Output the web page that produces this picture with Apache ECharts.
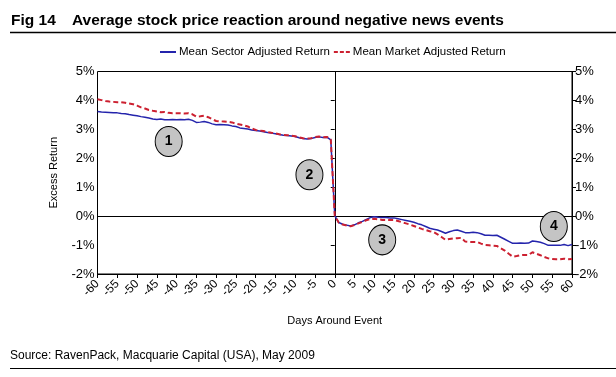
<!DOCTYPE html>
<html>
<head>
<meta charset="utf-8">
<script src="https://cdn.jsdelivr.net/npm/echarts@6/dist/echarts.min.js"></script>
<style>html,body{margin:0;padding:0;background:#fff;}#c{width:616px;height:377px;}</style>
</head>
<body>
<div id="c"></div>
<script>
// Days around event: -60 .. 60
var days = [];
for (var d = -60; d <= 60; d++) days.push(d);

// Mean Sector Adjusted Return (%), days -60..60
var sectorReturn = [
  3.62, 3.60, 3.59, 3.58, 3.57, 3.57, 3.55, 3.54, 3.51, 3.49,
  3.47, 3.44, 3.42, 3.39, 3.36, 3.34, 3.36, 3.33, 3.33, 3.34,
  3.33, 3.34, 3.33, 3.35, 3.31, 3.24, 3.25, 3.27, 3.24, 3.19,
  3.16, 3.17, 3.16, 3.15, 3.12, 3.10, 3.05, 3.03, 3.01, 2.98,
  2.96, 2.94, 2.92, 2.89, 2.87, 2.85, 2.82, 2.80, 2.79, 2.77,
  2.75, 2.71, 2.68, 2.67, 2.68, 2.72, 2.74, 2.72, 2.73, 2.64,
  0.02,
  -0.22, -0.28, -0.31, -0.34, -0.30, -0.23, -0.18, -0.11, -0.05, -0.02,
  -0.04, -0.05, -0.05, -0.06, -0.06, -0.09, -0.12, -0.15, -0.18, -0.21,
  -0.26, -0.30, -0.36, -0.42, -0.45, -0.48, -0.53, -0.59, -0.54, -0.50,
  -0.48, -0.52, -0.57, -0.57, -0.56, -0.57, -0.61, -0.66, -0.66, -0.67,
  -0.66, -0.73, -0.80, -0.87, -0.94, -0.94, -0.93, -0.94, -0.93, -0.86,
  -0.88, -0.90, -0.95, -1.01, -1.01, -1.01, -1.01, -0.98, -1.02, -0.98
];

// Mean Market Adjusted Return (%), days -60..60
var marketReturn = [
  4.04, 4.01, 3.98, 3.96, 3.95, 3.94, 3.94, 3.92, 3.89, 3.87,
  3.82, 3.76, 3.72, 3.67, 3.64, 3.62, 3.59, 3.60, 3.57, 3.56,
  3.56, 3.56, 3.55, 3.56, 3.52, 3.44, 3.45, 3.47, 3.42, 3.35,
  3.29, 3.28, 3.27, 3.26, 3.24, 3.20, 3.17, 3.14, 3.10, 3.03,
  2.98, 2.96, 2.94, 2.91, 2.88, 2.86, 2.83, 2.81, 2.80, 2.78,
  2.76, 2.72, 2.69, 2.68, 2.69, 2.73, 2.75, 2.73, 2.74, 2.65,
  0.02,
  -0.22, -0.29, -0.32, -0.35, -0.31, -0.25, -0.20, -0.14, -0.10, -0.09,
  -0.11, -0.13, -0.13, -0.13, -0.13, -0.17, -0.21, -0.25, -0.29, -0.34,
  -0.39, -0.44, -0.48, -0.52, -0.55, -0.63, -0.72, -0.82, -0.79, -0.77,
  -0.76, -0.75, -0.88, -0.89, -0.89, -0.89, -0.95, -1.00, -1.01, -1.02,
  -1.03, -1.11, -1.19, -1.30, -1.40, -1.38, -1.35, -1.34, -1.34, -1.25,
  -1.30, -1.35, -1.41, -1.46, -1.48, -1.49, -1.49, -1.47, -1.49, -1.48
];

// Numbered annotation callouts [day, return %, label]
var callouts = [
  [-42, 2.58, '1'],
  [-6.4, 1.43, '2'],
  [12, -0.82, '3'],
  [55.4, -0.36, '4']
];

var seriesNames = ['Mean Sector Adjusted Return', 'Mean Market Adjusted Return'];
var titleFig = 'Fig 14';
var titleText = 'Average stock price reaction around negative news events';
var sourceText = 'Source: RavenPack, Macquarie Capital (USA), May 2009';

function pairs(vals) {
  return days.map(function (d, i) { return [d, vals[i]]; });
}

var FONT = 'Liberation Sans, Arial, sans-serif';
var chart = echarts.init(document.getElementById('c'), null, { renderer: 'canvas' });

var yAxisCommon = {
  type: 'value', min: -2, max: 5, interval: 1,
  splitLine: { show: false },
  axisLine: { show: true, lineStyle: { color: '#000', width: 1 } },
  axisTick: { show: true, inside: false, length: 4, lineStyle: { color: '#000' } },
  axisLabel: { color: '#000', fontSize: 13, fontFamily: FONT, margin: 3,
    formatter: function (v) { return v + '%'; } }
};

chart.setOption({
  animation: false,
  backgroundColor: '#fff',
  textStyle: { fontFamily: FONT },
  graphic: [
    { type: 'text', left: 11, top: 13, style: { text: titleFig, font: 'bold 15.5px ' + FONT, fill: '#000' } },
    { type: 'text', left: 72, top: 13, style: { text: titleText, font: 'bold 15.5px ' + FONT, fill: '#000' } },
    { type: 'line', shape: { x1: 10, y1: 32.5, x2: 616, y2: 32.5 }, style: { stroke: '#000', lineWidth: 1.3 } },
    { type: 'text', left: 10, top: 350, style: { text: sourceText, font: '12px ' + FONT, fill: '#000' } },
    { type: 'line', shape: { x1: 10, y1: 368.5, x2: 616, y2: 368.5 }, style: { stroke: '#000', lineWidth: 1 } }
  ],
  legend: {
    top: 46, left: 160, padding: 0,
    itemWidth: 16, itemHeight: 2, itemGap: 4,
    textStyle: { fontSize: 11.5, color: '#000', fontFamily: FONT, padding: [0, 0, 0, -2] },
    data: [
      { name: seriesNames[0], icon: 'path://M0,0H16V2H0Z' },
      { name: seriesNames[1], icon: 'path://M0,0H4V2H0Z M6,0H10V2H6Z M12,0H16V2H12Z' }
    ]
  },
  grid: {
    left: 97.5, right: 44, top: 71.5, bottom: 103,
    show: true, borderColor: '#000', borderWidth: 1, backgroundColor: 'transparent'
  },
  xAxis: {
    type: 'value', min: -60, max: 60, interval: 5,
    name: 'Days Around Event', nameLocation: 'middle', nameGap: 41,
    nameTextStyle: { fontSize: 11, color: '#000', fontFamily: FONT },
    splitLine: { show: false },
    axisLine: { show: true, onZero: false, lineStyle: { color: '#000' } },
    axisTick: { show: true, length: 4, lineStyle: { color: '#000' } },
    axisLabel: { color: '#000', fontSize: 12, fontFamily: FONT, rotate: 45, margin: 8 }
  },
  yAxis: [
    Object.assign({}, yAxisCommon, {
      position: 'left',
      name: 'Excess Return', nameLocation: 'middle', nameGap: 38, nameRotate: 90,
      nameTextStyle: { fontSize: 11, color: '#000', fontFamily: FONT }
    }),
    Object.assign({}, yAxisCommon, { position: 'right' })
  ],
  series: [
    {
      name: seriesNames[0], type: 'line', data: pairs(sectorReturn),
      symbol: 'none', z: 3,
      lineStyle: { color: '#2424ac', width: 1.5 },
      itemStyle: { color: '#2424ac' },
      markLine: {
        silent: true, symbol: ['none', 'none'], label: { show: false },
        lineStyle: { color: '#000', type: 'solid', width: 1 },
        data: [{ yAxis: 0 }, { xAxis: 0 }],
        z: 1
      },
      markPoint: {
        silent: true,
        symbol: 'circle', symbolSize: [27, 30],
        itemStyle: { color: '#c4c4c4', borderColor: '#000', borderWidth: 1 },
        label: { show: true, color: '#000', fontSize: 14, fontWeight: 'bold', fontFamily: FONT,
          formatter: function (p) { return p.data.name; } },
        data: callouts.map(function (c) { return { coord: [c[0], c[1]], name: c[2], value: c[2] }; })
      }
    },
    {
      name: seriesNames[1], type: 'line', data: pairs(marketReturn),
      symbol: 'none', z: 4,
      lineStyle: { color: '#cc2030', width: 2, type: [5, 3] },
      itemStyle: { color: '#cc2030' }
    }
  ]
});
</script>
</body>
</html>
